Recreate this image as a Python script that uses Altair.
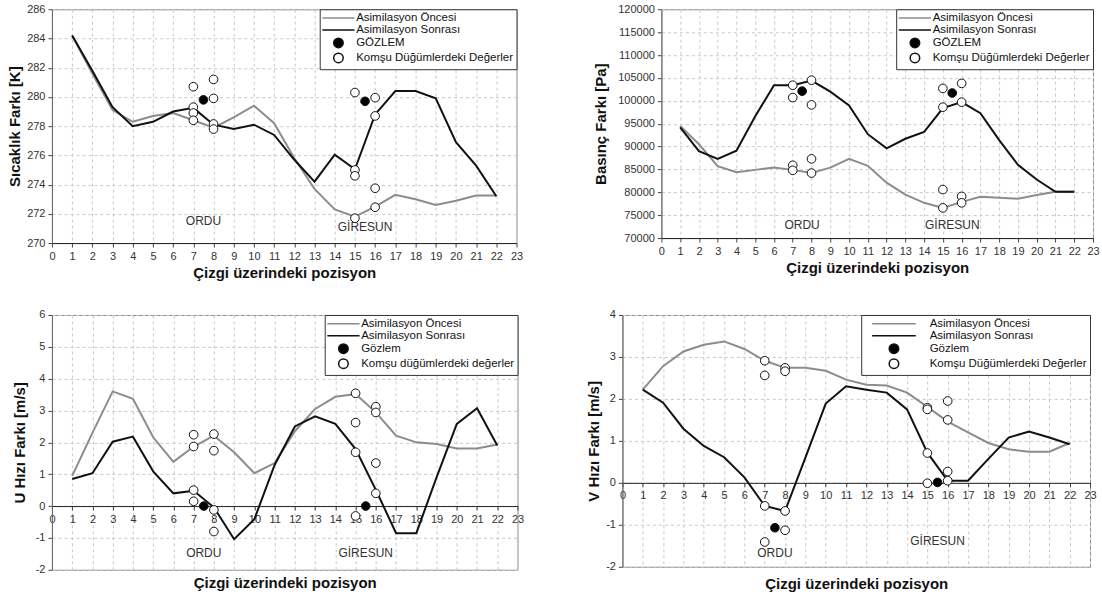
import altair as alt
import pandas as pd

FONT = "Liberation Sans"
GRAY = "#8c8c8c"
BLACK = "#111111"

POS = list(range(1, 23))
X_TICKS = list(range(0, 24))
CITY_NAMES = ["ORDU", "GİRESUN"]
CITY_X = [7.5, 15.5]
OBS_X = [7.5, 15.5]
NB_X = [7, 7, 7, 7, 8, 8, 8, 8, 15, 15, 15, 15, 16, 16, 16, 16]
X_TITLE = "Çizgi üzerindeki pozisyon"

LEG_T = ["Asimilasyon Öncesi", "Asimilasyon Sonrası", "GÖZLEM", "Komşu Düğümlerdeki Değerler"]
LEG_U = ["Asimilasyon Öncesi", "Asimilasyon Sonrası", "Gözlem", "Komşu düğümlerdeki değerler"]
LEG_V = ["Asimilasyon Öncesi", "Asimilasyon Sonrası", "Gözlem", "Komşu Düğümlerdeki Değerler"]

# Temperature [K]
T_BEFORE = [284.2, 281.6, 279.1, 278.3, 278.7, 278.9, 278.4, 277.9, 278.6, 279.4, 278.2,
            275.8, 273.7, 272.3, 271.8, 272.5, 273.3, 273.0, 272.6, 272.9, 273.25, 273.25]
T_AFTER = [284.2, 281.8, 279.3, 278.0, 278.3, 279.0, 279.25, 278.1, 277.8, 278.1, 277.4,
           275.7, 274.2, 276.05, 275.05, 278.8, 280.4, 280.4, 279.9, 276.9, 275.3, 273.2]
T_OBS = [279.8, 279.7]
T_NB = [280.7, 279.3, 278.9, 278.4, 281.2, 279.9, 278.15, 277.8,
        280.3, 275.0, 274.6, 271.7, 279.95, 278.7, 273.75, 272.45]
T_CITY_Y = [271.5, 271.1]
T_TICKS = [270, 272, 274, 276, 278, 280, 282, 284, 286]

# Pressure [Pa]
P_BEFORE = [94500, 90500, 85700, 84400, 84900, 85400, 84900, 84200, 85400, 87300, 85800,
            82100, 79500, 77700, 76600, 77900, 79000, 78800, 78600, 79400, 80100, 80100]
P_AFTER = [94200, 89000, 87300, 89100, 96600, 103400, 103400, 104400, 102000, 99000, 92700,
           89600, 91700, 93200, 98400, 99700, 97300, 91400, 86000, 82800, 80100, 80100]
P_OBS = [102100, 101700]
P_NB = [103400, 100700, 85900, 84800, 104500, 99100, 87300, 84200,
        102700, 98600, 80600, 76600, 103800, 99700, 79100, 77700]
P_CITY_Y = [72800, 72800]
P_TICKS = [70000, 75000, 80000, 85000, 90000, 95000, 100000, 105000, 110000, 115000, 120000]

# U wind [m/s]
U_BEFORE = [0.95, 2.3, 3.6, 3.37, 2.16, 1.39, 1.87, 2.21, 1.69, 1.03, 1.35,
            2.35, 3.05, 3.43, 3.52, 2.94, 2.21, 2.0, 1.95, 1.81, 1.81, 1.93]
U_AFTER = [0.85, 1.03, 2.02, 2.18, 1.09, 0.4, 0.48, -0.04, -1.04, -0.41, 1.29,
           2.5, 2.82, 2.58, 1.79, 0.51, -0.85, -0.85, 0.9, 2.58, 3.07, 1.9]
U_OBS = [0.0, 0.0]
U_NB = [2.24, 1.87, 0.5, 0.15, 2.26, 1.74, -0.12, -0.8,
        3.54, 2.62, 1.69, -0.31, 3.12, 2.94, 1.35, 0.4]
U_CITY_Y = [-1.47, -1.47]
U_TICKS = [-2, -1, 0, 1, 2, 3, 4, 5, 6]

# V wind [m/s]
V_BEFORE = [2.22, 2.78, 3.13, 3.29, 3.37, 3.19, 2.91, 2.74, 2.74, 2.67, 2.46,
            2.34, 2.32, 2.15, 1.81, 1.46, 1.2, 0.95, 0.8, 0.74, 0.74, 0.95]
V_AFTER = [2.22, 1.91, 1.29, 0.88, 0.61, 0.13, -0.55, -0.67, 0.6, 1.89, 2.3,
           2.22, 2.15, 1.75, 0.72, 0.05, 0.05, 0.57, 1.08, 1.22, 1.08, 0.92]
V_OBS = [-1.07, 0.01]
V_NB = [2.91, 2.56, -0.55, -1.41, 2.74, 2.66, -0.67, -1.13,
        1.79, 1.75, 0.71, -0.01, 1.95, 1.5, 0.27, 0.05]
V_CITY_Y = [-1.68, -1.39]
V_TICKS = [-2, -1, 0, 1, 2, 3, 4]


def panel(before, after, obs, nb, city_y, labels, yticks, ytitle, w, h,
          zero_offset=None, title_y=None, ytitle_pad=4,
          line_symbol="M-3.4,0L3.4,0", sym_off=10, lab_off=12):
    lines = pd.DataFrame({"x": POS + POS, "y": before + after,
                          "s": [labels[0]] * len(before) + [labels[1]] * len(after)})
    pts = pd.DataFrame({"x": NB_X + OBS_X, "y": nb + obs,
                        "s": [labels[3]] * len(nb) + [labels[2]] * len(obs)})
    cities = pd.DataFrame({"x": CITY_X, "y": city_y, "t": CITY_NAMES})

    ax = dict(values=X_TICKS, title=X_TITLE, grid=True, labelFlush=False,
              labelOverlap=False, domainColor="#222222",
              labelExpr="toString(datum.value)")
    if zero_offset is not None:
        ax.update(offset=zero_offset, titleY=title_y)
    xenc = alt.X("x:Q", scale=alt.Scale(domain=[0, 23], nice=False, zero=False),
                 axis=alt.Axis(**ax))
    yenc = alt.Y("y:Q", scale=alt.Scale(domain=[yticks[0], yticks[-1]], nice=False, zero=False),
                 axis=alt.Axis(values=yticks, title=ytitle, grid=True,
                               labelFlush=False, labelOverlap=False,
                               labelExpr="toString(datum.value)",
                               titlePadding=ytitle_pad, domainColor="#666666"))

    l_before = alt.Chart(lines).transform_filter(alt.datum.s == labels[0]).mark_line(
        color=GRAY, strokeWidth=2).encode(x=xenc, y=yenc)
    l_after = alt.Chart(lines).transform_filter(alt.datum.s == labels[1]).mark_line(
        color=BLACK, strokeWidth=2).encode(x=xenc, y=yenc)

    leg = alt.Legend(title=None, orient="top-right", offset=0, padding=3,
                     strokeColor="#333333", fillColor="white",
                     labelFont=FONT, labelFontSize=11.5, labelColor="#111111",
                     rowPadding=-1, symbolOffset=sym_off, labelOffset=lab_off,
                     symbolStrokeWidth=1.5, symbolSize=90, labelLimit=300)
    p = alt.Chart(pts).mark_point(filled=True, size=75, strokeWidth=1, opacity=1).encode(
        x=xenc, y=yenc,
        color=alt.Color("s:N", scale=alt.Scale(domain=labels,
                        range=["transparent", "transparent", "black", "white"]), legend=leg),
        stroke=alt.Stroke("s:N", scale=alt.Scale(domain=labels,
                          range=[GRAY, BLACK, BLACK, BLACK]), legend=leg),
        shape=alt.Shape("s:N", scale=alt.Scale(domain=labels,
                        range=[line_symbol, line_symbol, "circle", "circle"]), legend=leg),
    )
    t = alt.Chart(cities).mark_text(font=FONT, fontSize=12, color="#333333").encode(
        x=xenc, y=yenc, text="t:N")
    return alt.layer(l_before, l_after, p, t).properties(width=w, height=h)


tl = panel(T_BEFORE, T_AFTER, T_OBS, T_NB, T_CITY_Y, LEG_T, T_TICKS,
           "Sıcaklık Farkı [K]", 465, 234)
tr = panel(P_BEFORE, P_AFTER, P_OBS, P_NB, P_CITY_Y, LEG_T, P_TICKS,
           "Basınç Farkı [Pa]", 432, 229, ytitle_pad=9)
bl = panel(U_BEFORE, U_AFTER, U_OBS, U_NB, U_CITY_Y, LEG_U, U_TICKS,
           "U Hızı Farkı [m/s]", 466, 255, zero_offset=-63.75, title_y=70, ytitle_pad=8)
br = panel(V_BEFORE, V_AFTER, V_OBS, V_NB, V_CITY_Y, LEG_V, V_TICKS,
           "V Hızı Farkı [m/s]", 468, 252, zero_offset=-84, title_y=94, ytitle_pad=4,
           line_symbol="M-4.6,0L4.6,0", sym_off=24, lab_off=30)

RES = dict(color="independent", stroke="independent", shape="independent")
chart = alt.vconcat(
    alt.hconcat(tl, tr, spacing=69).resolve_scale(**RES),
    alt.hconcat(bl, br, spacing=61).resolve_scale(**RES),
    spacing=27,
).resolve_scale(**RES).properties(
    padding={"left": 7, "top": 2, "right": 2, "bottom": 2},
    background="white",
).configure_view(stroke="#8a8a8a", strokeWidth=1).configure_axis(
    labelFont=FONT, labelFontSize=11, labelColor="#333333",
    titleFont=FONT, titleFontSize=15, titleFontWeight="bold", titleColor="#111111",
    gridColor="#c8c8c8", gridDash=[3, 3], gridWidth=1,
    tickColor="#444444", tickSize=4, labelPadding=3,
)

chart.save("out.html", embed_options={"renderer": "svg", "actions": False})
